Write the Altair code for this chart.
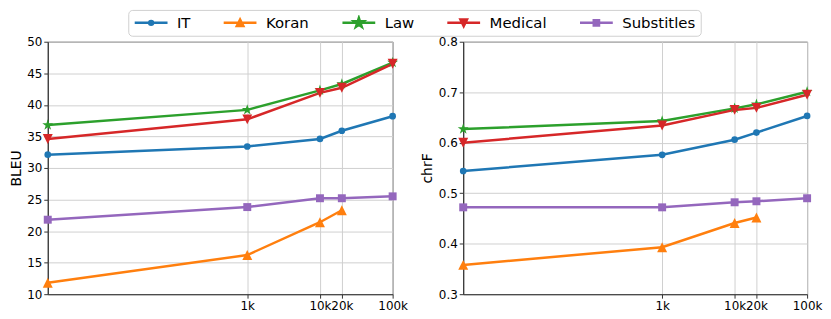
import altair as alt
import pandas as pd

# ---------------- data ----------------
series = ["IT", "Koran", "Law", "Medical", "Substitles"]
colors = ["#1f77b4", "#ff7f0e", "#2ca02c", "#d62728", "#9467bd"]
sizes = [1.8, 1000, 10000, 20000, 100000]
tick_values = [1000, 10000, 20000, 100000]
tick_labels = ["1k", "10k", "20k", "100k"]

bleu_it = [32.1, 33.4, 34.6, 35.9, 38.2]
bleu_koran = [11.8, 16.2, 21.4, 23.3, None]
bleu_law = [36.8, 39.2, 42.3, 43.3, 46.7]
bleu_medical = [34.6, 37.7, 41.9, 42.7, 46.5]
bleu_subtitles = [21.8, 23.8, 25.2, 25.2, 25.5]

chrf_it = [0.544, 0.576, 0.606, 0.620, 0.653]
chrf_koran = [0.358, 0.393, 0.441, 0.452, None]
chrf_law = [0.627, 0.643, 0.668, 0.676, 0.701]
chrf_medical = [0.600, 0.634, 0.665, 0.669, 0.695]
chrf_subtitles = [0.472, 0.472, 0.482, 0.484, 0.490]

bleu_ticks = [10, 15, 20, 25, 30, 35, 40, 45, 50]
chrf_ticks = [0.3, 0.4, 0.5, 0.6, 0.7, 0.8]

# ---------------- marker styles ----------------
STAR = ("M0,-1L0.2245,-0.309L0.951,-0.309L0.3633,0.118L0.588,0.809L0,0.382"
        "L-0.588,0.809L-0.3633,0.118L-0.951,-0.309L-0.2245,-0.309Z")
marker_shapes = ["circle", "M0,-1L-1,1L1,1Z", STAR, "M0,1L-1,-1L1,-1Z", "square"]
marker_sizes = [45, 100, 134, 100, 64]


def ring(r):
    return f"M{r},0A{r},{r} 0 1,1 {-r},0A{r},{r} 0 1,1 {r},0Z"


def tri_up(a):
    return f"M0,{-a}L{-a},{a}L{a},{a}Z"


def tri_down(a):
    return f"M0,{a}L{-a},{-a}L{a},{-a}Z"


def star(s):
    pts = [(0, -1), (0.2245, -0.309), (0.951, -0.309), (0.3633, 0.118), (0.588, 0.809),
           (0, 0.382), (-0.588, 0.809), (-0.3633, 0.118), (-0.951, -0.309), (-0.2245, -0.309)]
    return "M" + "L".join(f"{x*s:.4f},{y*s:.4f}" for x, y in pts) + "Z"


def sq(h):
    return f"M{-h},{-h}L{h},{-h}L{h},{h}L{-h},{h}Z"


LINE = "M-1,0L1,0"
legend_shapes = [
    LINE + ring(0.12) + ring(0.04),
    LINE + tri_up(0.2) + tri_up(0.11) + tri_up(0.04),
    LINE + star(0.3) + star(0.18) + star(0.07),
    LINE + tri_down(0.2) + tri_down(0.11) + tri_down(0.04),
    LINE + sq(0.16) + sq(0.07),
]


def build_df(values):
    rows = []
    for s, c, vals, shp, msz in zip(series, colors, values, marker_shapes, marker_sizes):
        for x, v in zip(sizes, vals):
            if v is not None:
                rows.append({"series": s, "size": x, "value": v, "mcolor": c,
                             "mshape": shp, "msize": msz})
    return pd.DataFrame(rows)


bleu_df = build_df([bleu_it, bleu_koran, bleu_law, bleu_medical, bleu_subtitles])
chrf_df = build_df([chrf_it, chrf_koran, chrf_law, chrf_medical, chrf_subtitles])

label_expr = " : ".join(f"datum.value == {v} ? '{l}'" for v, l in zip(tick_values, tick_labels)) + " : ''"

color_scale = alt.Scale(domain=series, range=colors)
FONT = "DejaVu Sans"


def panel(df, title, domain, ticks, fmt, width, with_legend):
    x = alt.X("size:Q",
              scale=alt.Scale(type="log", domain=[sizes[0], sizes[-1]], nice=False),
              axis=alt.Axis(values=tick_values, labelExpr=label_expr, title=None,
                            labelOverlap=False, labelFlush=False))
    y = alt.Y("value:Q", scale=alt.Scale(domain=domain, nice=False, zero=False),
              axis=alt.Axis(values=ticks, format=fmt, title=title))
    base = alt.Chart(df).encode(x=x, y=y)
    lines = base.mark_line(strokeWidth=2.5).encode(
        stroke=alt.Stroke("mcolor:N", scale=None),
        detail="series:N")
    pts = base.mark_point(filled=True, opacity=1).encode(
        fill=alt.Fill("mcolor:N", scale=None),
        shape=alt.Shape("mshape:N", scale=None),
        size=alt.Size("msize:Q", scale=None))
    layers = [lines, pts]
    if with_legend:
        leg = base.mark_point(filled=False, opacity=0, strokeWidth=2.5).encode(
            color=alt.Color("series:N", scale=color_scale,
                            legend=alt.Legend(
                                title=None, orient="none", direction="horizontal",
                                legendX=81, legendY=-32,
                                columnPadding=31.5, labelOffset=8,
                                symbolSize=1089, symbolStrokeWidth=2.5, symbolOpacity=1,
                                labelFont=FONT, labelFontSize=15, labelColor="#000",
                                padding=5, strokeColor="#d0d0d0", fillColor="white",
                                cornerRadius=4, clipHeight=16)),
            shape=alt.Shape("series:N", scale=alt.Scale(domain=series, range=legend_shapes)))
        layers.append(leg)
    return alt.layer(*layers).properties(width=width, height=254)


left = panel(bleu_df, "BLEU", [10, 50], bleu_ticks, "d", 347, True)
right = panel(chrf_df, "chrF", [0.3, 0.8], chrf_ticks, ".1f", 346, False)

chart = alt.hconcat(left, right, spacing=11).properties(padding=0).configure_view(
    stroke="#444", strokeWidth=1
).configure_axis(
    labelFont=FONT, labelFontSize=12, labelColor="#000",
    titleFont=FONT, titleFontSize=14, titleFontWeight="normal", titleColor="#000",
    domainColor="#333", tickColor="#333", tickSize=4, labelPadding=2,
    gridColor="#d0d0d0", gridWidth=1, titlePadding=3.5,
)

chart.save("out.html", embed_options={"renderer": "svg", "actions": False})
